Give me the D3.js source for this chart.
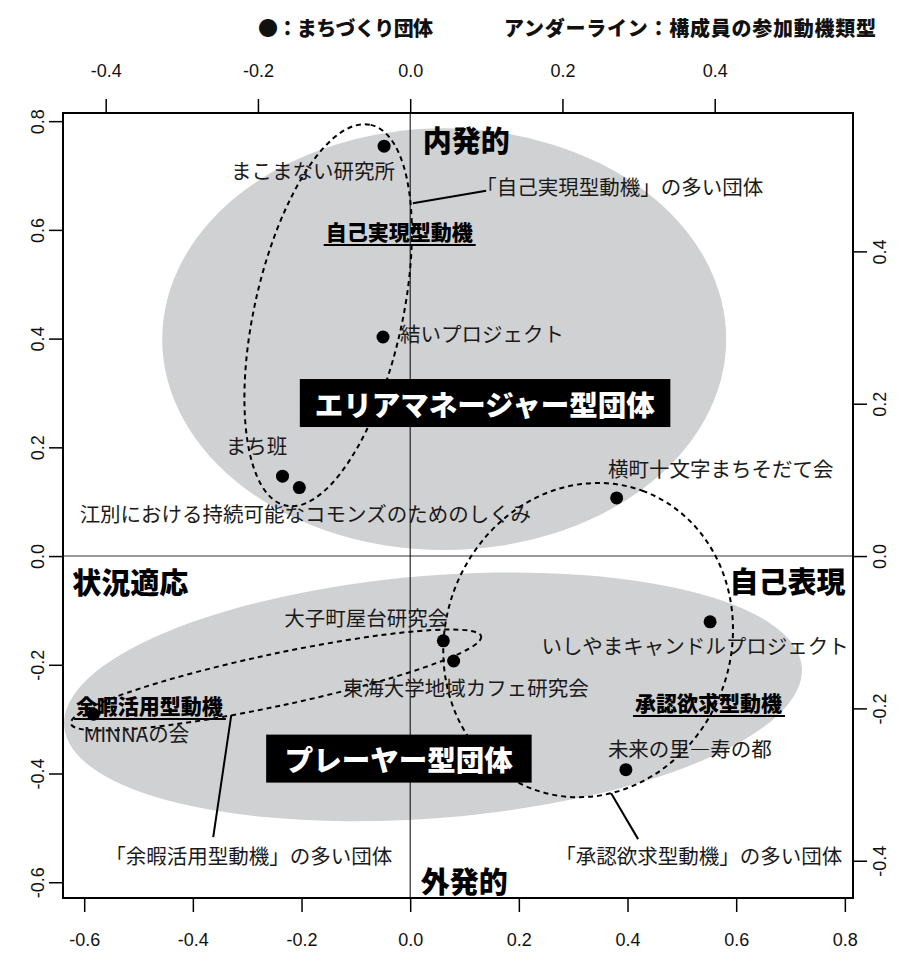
<!DOCTYPE html>
<html><head><meta charset="utf-8">
<script src="https://cdn.jsdelivr.net/npm/d3@7"></script>
<style>body{margin:0;background:#fff}svg{display:block}</style>
</head><body>
<svg id="c" width="910" height="961"></svg>
<script>
// ---------- data ----------
const orgNames = ["まこまない研究所","結いプロジェクト","まち班","江別における持続可能なコモンズのためのしくみ","横町十文字まちそだて会","いしやまキャンドルプロジェクト","大子町屋台研究会","東海大学地域カフェ研究会","MINNAの会","未来の里―寿の都"];
const orgX = [-0.048,-0.050,-0.235,-0.204,0.380,0.552,0.061,0.080,-0.583,0.397];
const orgY = [0.754,0.403,0.147,0.126,0.107,-0.121,-0.156,-0.193,-0.291,-0.393];

const bottomTicks = [-0.6,-0.4,-0.2,0.0,0.2,0.4,0.6,0.8];
const leftTicks = [-0.6,-0.4,-0.2,0.0,0.2,0.4,0.6,0.8];
const topTicks = [-0.4,-0.2,0.0,0.2,0.4];
const rightTicks = [-0.4,-0.2,0.0,0.2,0.4];

// organisation-type regions (grey ellipses)
const groupNames = ["エリアマネージャー型団体","プレーヤー型団体"];
const groupCX = [0.0626, 0.042];
const groupCY = [0.399, -0.259];
const groupRX = [0.519, 0.681];
const groupRY = [0.388, 0.223];
const groupAngle = [0, 4.6];
const groupLabelX = [0.1374, -0.0212];
const groupLabelY = [0.2815, -0.3726];

// participation-motive types (dashed ellipses)
const motiveNames = ["自己実現型動機","余暇活用型動機","承認欲求型動機"];
const motiveCX = [-0.151, -0.247, 0.3275];
const motiveCY = [0.443, -0.228, -0.1546];
const motiveA = [0.359, 0.386, 0.2925];
const motiveB = [0.136, 0.048, 0.263];
const motiveAngle = [77.4, 12, 70];
const motiveLabelX = [-0.0202, -0.480, 0.549];
const motiveLabelY = [0.598, -0.274, -0.2686];

const noteTexts = ["「自己実現型動機」の多い団体","「余暇活用型動機」の多い団体","「承認欲求型動機」の多い団体"];
const noteX = [0.1214, -0.5612, 0.2668];
const noteY = [0.681, -0.550, -0.550];
const leaderFromX = [0.005, -0.3293, 0.3698];
const leaderFromY = [0.649, -0.2926, -0.4361];
const leaderToX = [0.1398, -0.3625, 0.4195];
const leaderToY = [0.672, -0.517, -0.5207];

const axisWords = ["内発的","外発的","状況適応","自己表現"];
const axisWordX = [0.103, 0.0994, -0.515, 0.6946];
const axisWordY = [0.768, -0.596, -0.046, -0.0442];

const legendItems = ["●：まちづくり団体","アンダーライン：構成員の参加動機類型"];

// ---------- layout ----------
const box = {l:63, r:853, t:113, b:898};
const JP = "'Noto Sans CJK JP','Noto Sans CJK SC',sans-serif";
const labelOffsets = [[-71,24,"middle"],[17,-4,"start"],[-26,-31,"middle"],[6,25,"middle"],[104,-30,"middle"],[-15,23,"middle"],[-77,-24,"middle"],[12,26,"middle"],[43,19,"middle"],[64,-22,"middle"]];

const x = d3.scaleLinear().domain([-0.639,0.815]).range([box.l,box.r]);
const y = d3.scaleLinear().domain([-0.629,0.815]).range([box.b,box.t]);
const k = 761.5/543.5;
const xTop = d3.scaleLinear().domain([x.domain()[0]/k, x.domain()[1]/k]).range([box.l,box.r]);
const yRight = d3.scaleLinear().domain([y.domain()[0]/k, y.domain()[1]/k]).range([box.b,box.t]);
const pxPerUnit = x(1)-x(0);

const svg = d3.select("#c");

// grey regions
svg.append("g").selectAll("ellipse").data(groupNames).join("ellipse")
  .attr("transform",(d,i)=>`translate(${x(groupCX[i])},${y(groupCY[i])}) rotate(${-groupAngle[i]})`)
  .attr("rx",(d,i)=>groupRX[i]*pxPerUnit).attr("ry",(d,i)=>groupRY[i]*pxPerUnit)
  .attr("fill","#d0d1d3");

// zero lines
svg.append("line").attr("x1",box.l).attr("x2",box.r).attr("y1",y(0)).attr("y2",y(0)).attr("stroke","#777").attr("stroke-width",1.6);
svg.append("line").attr("x1",x(0)).attr("x2",x(0)).attr("y1",box.t).attr("y2",box.b).attr("stroke","#000").attr("stroke-width",1);

// dashed motive ellipses
svg.append("g").selectAll("ellipse").data(motiveNames).join("ellipse")
  .attr("transform",(d,i)=>`translate(${x(motiveCX[i])},${y(motiveCY[i])}) rotate(${-motiveAngle[i]})`)
  .attr("rx",(d,i)=>motiveA[i]*pxPerUnit).attr("ry",(d,i)=>motiveB[i]*pxPerUnit)
  .attr("fill","none").attr("stroke","#000").attr("stroke-width",2).attr("stroke-dasharray","5,4");

// leader lines
svg.append("g").selectAll("line").data(noteTexts).join("line")
  .attr("x1",(d,i)=>x(leaderFromX[i])).attr("y1",(d,i)=>y(leaderFromY[i]))
  .attr("x2",(d,i)=>x(leaderToX[i])).attr("y2",(d,i)=>y(leaderToY[i]))
  .attr("stroke","#000").attr("stroke-width",2);

// points
svg.append("g").selectAll("circle").data(orgNames).join("circle")
  .attr("cx",(d,i)=>x(orgX[i])).attr("cy",(d,i)=>y(orgY[i])).attr("r",6.5).attr("fill","#000");

// point labels
svg.append("g").selectAll("text").data(orgNames).join("text")
  .attr("x",(d,i)=>x(orgX[i])+labelOffsets[i][0]).attr("y",(d,i)=>y(orgY[i])+labelOffsets[i][1])
  .attr("text-anchor",(d,i)=>labelOffsets[i][2]).attr("dominant-baseline","central")
  .attr("font-family",JP).attr("font-size",20.5).attr("fill","#1a1a1a").text(d=>d);

// notes
svg.append("g").selectAll("text").data(noteTexts).join("text")
  .attr("x",(d,i)=>x(noteX[i])).attr("y",(d,i)=>y(noteY[i]))
  .attr("dominant-baseline","central").attr("font-family",JP).attr("font-size",20.5).attr("fill","#1a1a1a").text(d=>d);

// motive labels (underlined)
const mg = svg.append("g").selectAll("g").data(motiveNames).join("g");
mg.append("text").attr("x",(d,i)=>x(motiveLabelX[i])).attr("y",(d,i)=>y(motiveLabelY[i]))
  .attr("text-anchor","middle").attr("dominant-baseline","central")
  .attr("font-family",JP).attr("font-size",21).attr("font-weight",900).text(d=>d);
mg.each(function(d,i){
  const t = d3.select(this).select("text").node().getBBox();
  d3.select(this).append("line").attr("x1",t.x-2).attr("x2",t.x+t.width+3)
    .attr("y1",y(motiveLabelY[i])+14).attr("y2",y(motiveLabelY[i])+14)
    .attr("stroke","#000").attr("stroke-width",2);
});

// axis words
svg.append("g").selectAll("text").data(axisWords).join("text")
  .attr("x",(d,i)=>x(axisWordX[i])).attr("y",(d,i)=>y(axisWordY[i]))
  .attr("text-anchor","middle").attr("dominant-baseline","central")
  .attr("font-family",JP).attr("font-size",29).attr("font-weight",900).text(d=>d);

// group labels on black boxes
const gg = svg.append("g").selectAll("g").data(groupNames).join("g");
gg.append("text").attr("x",(d,i)=>x(groupLabelX[i])).attr("y",(d,i)=>y(groupLabelY[i]))
  .attr("text-anchor","middle").attr("dominant-baseline","central")
  .attr("font-family",JP).attr("font-size",28.5).attr("font-weight",900).attr("fill","#fff").text(d=>d);
gg.each(function(d,i){
  const t = d3.select(this).select("text").node().getBBox();
  const padX = i===0?15:18.5;
  d3.select(this).insert("rect","text").attr("x",t.x-padX).attr("width",t.width+2*padX)
    .attr("y",y(groupLabelY[i])-24).attr("height",48).attr("fill","#000");
});

// frame
svg.append("rect").attr("x",box.l).attr("y",box.t).attr("width",box.r-box.l).attr("height",box.b-box.t)
  .attr("fill","none").attr("stroke","#000").attr("stroke-width",2);

// axes
const fmt = v => d3.format(".1f")(v).replace("\u2212","-");
function styleAxis(g){
  g.select(".domain").remove();
  g.selectAll(".tick line").attr("stroke","#000").attr("stroke-width",1.5);
  g.selectAll(".tick text").attr("font-family","'Liberation Sans',Arial,sans-serif").attr("font-size",18).attr("fill","#111");
}
svg.append("g").attr("transform",`translate(0,${box.b})`)
  .call(d3.axisBottom(x).tickValues(bottomTicks).tickFormat(fmt).tickSize(14).tickPadding(21)).call(styleAxis);
svg.append("g").attr("transform",`translate(0,${box.t})`)
  .call(d3.axisTop(xTop).tickValues(topTicks).tickFormat(fmt).tickSize(14).tickPadding(22)).call(styleAxis);
const la = svg.append("g").attr("transform",`translate(${box.l},0)`)
  .call(d3.axisLeft(y).tickValues(leftTicks).tickFormat(fmt).tickSize(14)).call(styleAxis);
la.selectAll(".tick text").attr("x",0).attr("dy",null).attr("text-anchor","middle").attr("dominant-baseline","central")
  .attr("transform",`translate(${38-box.l},0) rotate(-90)`);
const ra = svg.append("g").attr("transform",`translate(${box.r},0)`)
  .call(d3.axisRight(yRight).tickValues(rightTicks).tickFormat(fmt).tickSize(14)).call(styleAxis);
ra.selectAll(".tick text").attr("x",0).attr("dy",null).attr("text-anchor","middle").attr("dominant-baseline","central")
  .attr("transform",`translate(${880-box.r},0) rotate(-90)`);

// legend
const legendX = [258, 504];
const legendW = [175, 372];
svg.append("g").selectAll("text").data(legendItems).join("text")
  .attr("x",(d,i)=>legendX[i]).attr("y",27).attr("dominant-baseline","central")
  .attr("textLength",(d,i)=>legendW[i]).attr("lengthAdjust","spacing")
  .attr("font-family",JP).attr("font-size",20).attr("font-weight",900).attr("fill","#111").text(d=>d);
</script>
</body></html>
